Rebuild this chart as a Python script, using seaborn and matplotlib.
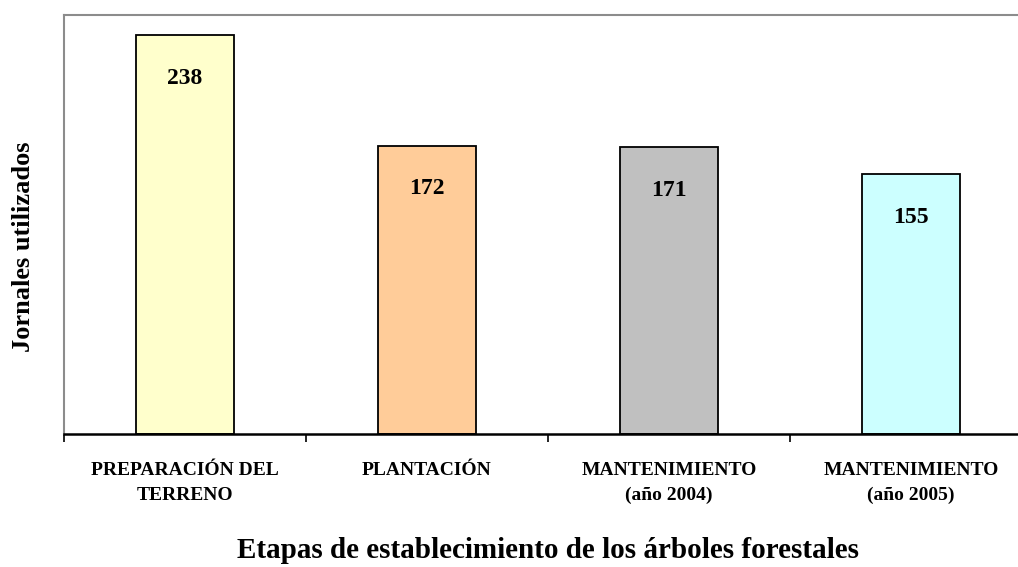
import matplotlib
matplotlib.use("Agg")
import matplotlib.pyplot as plt
import seaborn as sns
import numpy as np

categories = ["PREPARACIÓN DEL\nTERRENO", "PLANTACIÓN", "MANTENIMIENTO\n(año 2004)", "MANTENIMIENTO\n(año 2005)"]
values = [238, 172, 171, 155]
colors = ["#FFFFCC", "#FFCC99", "#C0C0C0", "#CCFFFF"]

sns.set_theme(style="white")
plt.rcParams["font.family"] = ["Liberation Serif", "DejaVu Serif"]
plt.rcParams["text.color"] = "black"
plt.rcParams["axes.labelcolor"] = "black"
plt.rcParams["xtick.color"] = "black"

fig = plt.figure(figsize=(10.18, 5.67), dpi=100)
ax = fig.add_axes([64/1018, 1-434/567, 968/1018, 419/567])

sns.barplot(x=categories, y=values, hue=categories, palette=colors, width=0.405,
            edgecolor="black", linewidth=1.3, legend=False, ax=ax, saturation=1)

ax.set_xlim(-0.5, 3.5)
ax.set_ylim(0, 250)
ax.set_yticks([])
ax.set_ylabel("Jornales utilizados", fontsize=19, fontweight="bold", color="black")
ax.yaxis.set_label_coords(-0.030, 0.446)
ax.set_xlabel("Etapas de establecimiento de los árboles forestales", fontsize=21,
              fontweight="bold", labelpad=24, color="black")

ax.set_xticks(range(len(categories)))
ax.set_xticklabels(categories, fontsize=14, fontweight="bold", color="black", linespacing=1.6)
ax.set_xticks(np.arange(-0.5, 3.6, 1), minor=True)
ax.tick_params(axis="x", which="major", length=0, pad=20)
ax.tick_params(axis="x", which="minor", length=6, width=1.2, color="black", direction="out", bottom=True)

for side in ["left", "top", "right"]:
    ax.spines[side].set_color("#8C8C8C")
    ax.spines[side].set_linewidth(1.5)
ax.spines["bottom"].set_color("black")
ax.spines["bottom"].set_linewidth(1.8)

for i, v in enumerate(values):
    ax.annotate(str(v), xy=(i, v), xytext=(0, -31), textcoords="offset points",
                ha="center", va="center", fontsize=17, fontweight="bold", color="black")

fig.savefig("out.png", dpi=100)
